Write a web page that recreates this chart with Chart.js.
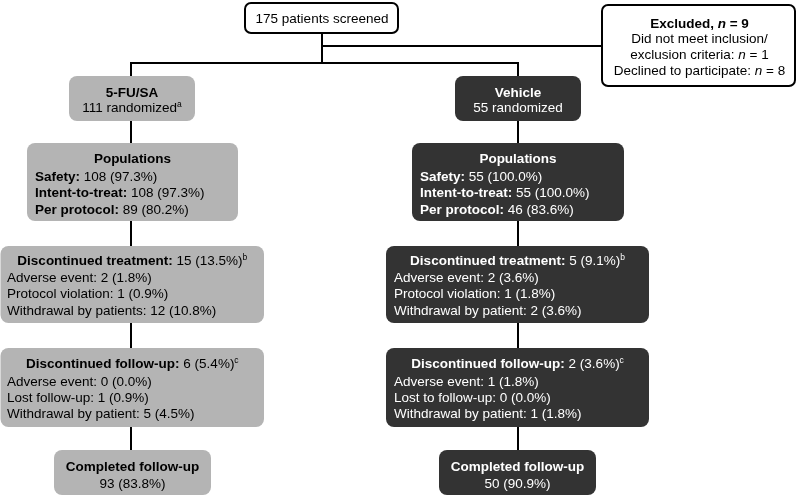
<!DOCTYPE html>
<html><head><meta charset="utf-8">
<script src="https://cdn.jsdelivr.net/npm/chart.js@4"></script>
<style>html,body{margin:0;padding:0;background:#fff}#wrap{width:796px;height:496px;position:relative}</style>
</head><body><div id="wrap"><canvas id="c"></canvas></div>
<script>
// ---- data ----
const armNames = ['5-FU/SA', 'Vehicle'];
const screened = 175;
const excludedTotal = 9;
const excludedCriteria = 1;
const excludedDeclined = 8;
const randomized = [111, 55];
const safety = [108, 55];
const safetyPct = ['97.3', '100.0'];
const intentToTreat = [108, 55];
const intentToTreatPct = ['97.3', '100.0'];
const perProtocol = [89, 46];
const perProtocolPct = ['80.2', '83.6'];
const discTreat = [15, 5];
const discTreatPct = ['13.5', '9.1'];
const discTreatAE = [2, 2];
const discTreatAEPct = ['1.8', '3.6'];
const discTreatPV = [1, 1];
const discTreatPVPct = ['0.9', '1.8'];
const discTreatWd = [12, 2];
const discTreatWdPct = ['10.8', '3.6'];
const discTreatWdLabel = ['Withdrawal by patients', 'Withdrawal by patient'];
const discFU = [6, 2];
const discFUPct = ['5.4', '3.6'];
const discFUAE = [0, 1];
const discFUAEPct = ['0.0', '1.8'];
const discFULost = [1, 0];
const discFULostPct = ['0.9', '0.0'];
const discFULostLabel = ['Lost follow-up', 'Lost to follow-up'];
const discFUWd = [5, 1];
const discFUWdPct = ['4.5', '1.8'];
const completed = [93, 50];
const completedPct = ['83.8', '90.9'];

// ---- layout (canvas units) & style ----
const FONT = '"Liberation Sans", Arial, sans-serif';
const FS = 13.5;
const armFill = ['#b4b4b4', '#333333'];
const armText = ['#000000', '#ffffff'];
const colX = [131, 518];
const layout = {
  top:   {x0: 245, x1: 398, y0: 3, y1: 33},
  excl:  {x0: 602, x1: 795, y0: 5, y1: 86},
  rand:  [{x0: 69, x1: 195}, {x0: 455, x1: 581}], randY: [76, 121],
  pop:   [{x0: 27, x1: 238}, {x0: 412, x1: 624}], popY: [143, 221],
  dt:    [{x0: 0.5, x1: 264}, {x0: 386, x1: 649}], dtY: [246, 323],
  df:    [{x0: 0.5, x1: 264}, {x0: 386, x1: 649}], dfY: [348, 427],
  comp:  [{x0: 54, x1: 211}, {x0: 439, x1: 596}], compY: [450, 495]
};

const pc = (n, p) => n + ' (' + p + '%)';

const flowPlugin = {
  id: 'flow',
  afterDraw(chart) {
    const ctx = chart.ctx;
    const sx = chart.scales.x, sy = chart.scales.y;
    const X = v => sx.getPixelForValue(v), Y = v => sy.getPixelForValue(v);

    function font(style) {
      if (style === 'sup') return '8.5px ' + FONT;
      let f = '';
      if (style.includes('i')) f += 'italic ';
      if (style.includes('b')) f += 'bold ';
      return f + FS + 'px ' + FONT;
    }
    function lineWidth(runs) {
      let w = 0;
      for (const [t, s] of runs) { ctx.font = font(s); w += ctx.measureText(t).width; }
      return w;
    }
    function drawLine(runs, x, yc, align, color) {
      let w = lineWidth(runs);
      let px = align === 'center' ? X(x) - w / 2 : X(x);
      ctx.fillStyle = color;
      ctx.textBaseline = 'alphabetic';
      ctx.textAlign = 'left';
      for (const [t, s] of runs) {
        ctx.font = font(s);
        const by = Y(yc) + 4.9 + (s === 'sup' ? -5 : 0);
        ctx.fillText(t, px, by);
        px += ctx.measureText(t).width;
      }
    }
    function box(b, y0, y1, fill, stroke, r) {
      const x = X(b.x0), y = Y(y0), w = X(b.x1) - X(b.x0), h = Y(y1) - Y(y0);
      ctx.beginPath();
      ctx.roundRect(x, y, w, h, r);
      if (fill) { ctx.fillStyle = fill; ctx.fill(); }
      if (stroke) { ctx.lineWidth = 2; ctx.strokeStyle = stroke; ctx.stroke(); }
    }
    function seg(x0, y0, x1, y1) {
      ctx.beginPath();
      ctx.moveTo(X(x0), Y(y0)); ctx.lineTo(X(x1), Y(y1));
      ctx.stroke();
    }

    ctx.save();
    // connectors
    ctx.strokeStyle = '#000'; ctx.lineWidth = 2; ctx.lineCap = 'butt';
    const midX = (layout.top.x0 + layout.top.x1) / 2 + 0.5;
    seg(midX, layout.top.y1, midX, 64);
    seg(midX, 46, layout.excl.x0, 46);
    seg(colX[0] - 1, 63, colX[1] + 1, 63);
    for (let a = 0; a < 2; a++) seg(colX[a], 63, colX[a], layout.compY[0] + 2);

    // top box
    box(layout.top, layout.top.y0, layout.top.y1, '#fff', '#000', 6);
    drawLine([[screened + ' patients screened', 'n']], midX, 18, 'center', '#000');

    // excluded box
    const E = layout.excl, ec = (E.x0 + E.x1) / 2 + 1;
    box(E, E.y0, E.y1, '#fff', '#000', 6);
    drawLine([['Excluded, ', 'b'], ['n', 'bi'], [' = ' + excludedTotal, 'b']], ec, 23, 'center', '#000');
    drawLine([['Did not meet inclusion/', 'n']], ec, 38.5, 'center', '#000');
    drawLine([['exclusion criteria: ', 'n'], ['n', 'i'], [' = ' + excludedCriteria, 'n']], ec, 54, 'center', '#000');
    drawLine([['Declined to participate: ', 'n'], ['n', 'i'], [' = ' + excludedDeclined, 'n']], ec, 70, 'center', '#000');

    for (let a = 0; a < 2; a++) {
      const fill = armFill[a], tc = armText[a];
      // randomized
      let b = layout.rand[a], c = (b.x0 + b.x1) / 2;
      box(b, layout.randY[0], layout.randY[1], fill, null, 8);
      drawLine([[armNames[a], 'b']], c, 92, 'center', tc);
      const rr = [[randomized[a] + ' randomized', 'n']];
      if (a === 0) rr.push(['a', 'sup']);
      drawLine(rr, c, 107, 'center', tc);

      // populations
      b = layout.pop[a]; c = (b.x0 + b.x1) / 2;
      let t = layout.popY[0];
      box(b, layout.popY[0], layout.popY[1], fill, null, 8);
      drawLine([['Populations', 'b']], c, t + 15, 'center', tc);
      drawLine([['Safety:', 'b'], [' ' + pc(safety[a], safetyPct[a]), 'n']], b.x0 + 8, t + 33, 'left', tc);
      drawLine([['Intent-to-treat:', 'b'], [' ' + pc(intentToTreat[a], intentToTreatPct[a]), 'n']], b.x0 + 8, t + 49.5, 'left', tc);
      drawLine([['Per protocol:', 'b'], [' ' + pc(perProtocol[a], perProtocolPct[a]), 'n']], b.x0 + 8, t + 66, 'left', tc);

      // discontinued treatment
      b = layout.dt[a]; c = (b.x0 + b.x1) / 2;
      t = layout.dtY[0];
      box(b, layout.dtY[0], layout.dtY[1], fill, null, 8);
      drawLine([['Discontinued treatment:', 'b'], [' ' + pc(discTreat[a], discTreatPct[a]), 'n'], ['b', 'sup']], c, t + 14, 'center', tc);
      const lx = a === 0 ? b.x0 + 6.5 : b.x0 + 8;
      drawLine([['Adverse event: ' + pc(discTreatAE[a], discTreatAEPct[a]), 'n']], lx, t + 31, 'left', tc);
      drawLine([['Protocol violation: ' + pc(discTreatPV[a], discTreatPVPct[a]), 'n']], lx, t + 47.5, 'left', tc);
      drawLine([[discTreatWdLabel[a] + ': ' + pc(discTreatWd[a], discTreatWdPct[a]), 'n']], lx, t + 64, 'left', tc);

      // discontinued follow-up
      b = layout.df[a]; c = (b.x0 + b.x1) / 2;
      t = layout.dfY[0];
      box(b, layout.dfY[0], layout.dfY[1], fill, null, 8);
      drawLine([['Discontinued follow-up:', 'b'], [' ' + pc(discFU[a], discFUPct[a]), 'n'], ['c', 'sup']], c, t + 15, 'center', tc);
      drawLine([['Adverse event: ' + pc(discFUAE[a], discFUAEPct[a]), 'n']], lx, t + 33.5, 'left', tc);
      drawLine([[discFULostLabel[a] + ': ' + pc(discFULost[a], discFULostPct[a]), 'n']], lx, t + 49.5, 'left', tc);
      drawLine([['Withdrawal by patient: ' + pc(discFUWd[a], discFUWdPct[a]), 'n']], lx, t + 65.5, 'left', tc);

      // completed
      b = layout.comp[a]; c = (b.x0 + b.x1) / 2;
      t = layout.compY[0];
      box(b, layout.compY[0], layout.compY[1], fill, null, 8);
      drawLine([['Completed follow-up', 'b']], c, t + 16, 'center', tc);
      drawLine([[pc(completed[a], completedPct[a]), 'n']], c, t + 33, 'center', tc);
    }
    ctx.restore();
  }
};

new Chart(document.getElementById('c'), {
  type: 'scatter',
  data: { datasets: [{ data: [], pointRadius: 0 }] },
  options: {
    responsive: true,
    maintainAspectRatio: false,
    animation: false,
    layout: { padding: 0 },
    plugins: { legend: { display: false }, tooltip: { enabled: false } },
    scales: {
      x: { type: 'linear', min: 0, max: 796, display: false },
      y: { type: 'linear', min: 0, max: 496, reverse: true, display: false }
    }
  },
  plugins: [flowPlugin]
});
</script>
</body></html>
